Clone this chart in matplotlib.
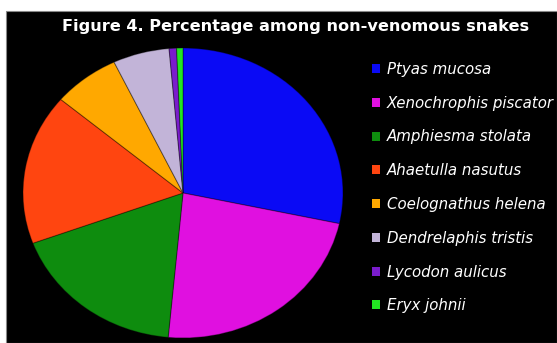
import matplotlib
matplotlib.use("Agg")
import matplotlib.pyplot as plt
from matplotlib.patches import Rectangle

species = ["Ptyas mucosa", "Xenochrophis piscator", "Amphiesma stolata",
           "Ahaetulla nasutus", "Coelognathus helena", "Dendrelaphis tristis",
           "Lycodon aulicus", "Eryx johnii"]
percent = [28.4, 23.1, 17.9, 16.8, 6.75, 5.7, 0.75, 0.64]
colors = ["#0a0af5", "#e010e0", "#0e8c0e", "#ff4510", "#ffa800", "#c2b4d8",
          "#7a1ccc", "#22e622"]
title = "Figure 4. Percentage among non-venomous snakes"

W, H = 557, 343
fig = plt.figure(figsize=(W / 100, H / 100), dpi=100, facecolor="white")

# black panel
fig.patches.append(Rectangle((6 / W, 0), 1 - 6 / W, (H - 11) / H,
                             transform=fig.transFigure, facecolor="black",
                             edgecolor="#888888", linewidth=0.8, zorder=-10))

cx, cy, rx, ry = 183, 193, 160, 145
ax = fig.add_axes([(cx - rx) / W, (H - cy - ry) / H, 2 * rx / W, 2 * ry / H])
ax.set_zorder(2)
ax.patch.set_visible(False)
wedges, _ = ax.pie(percent, colors=colors, startangle=90, counterclock=False,
                   radius=1.0,
                   wedgeprops=dict(edgecolor="#00000055", linewidth=0.8))
ax.set_aspect("auto")
ax.set_xlim(-1.0, 1.0)
ax.set_ylim(-1.0, 1.0)
ax.axis("off")

fig.text(296 / W, 1 - 26 / H, title, color="white", fontsize=11.6,
         fontweight="bold", ha="center", va="center", family="DejaVu Sans",
         zorder=5)

leg = fig.legend(wedges, species, loc="upper left",
                 bbox_to_anchor=(372 / W, 1 - 62 / H),
                 frameon=False, fontsize=10.8, labelcolor="white",
                 handlelength=0.55, handleheight=0.55, handletextpad=0.45,
                 labelspacing=1.25, borderpad=0, borderaxespad=0)
leg.set_zorder(5)
for t in leg.get_texts():
    t.set_fontstyle("italic")
for h in leg.legend_handles:
    h.set_edgecolor("none")

fig.savefig("out.png", dpi=100, facecolor="white")
